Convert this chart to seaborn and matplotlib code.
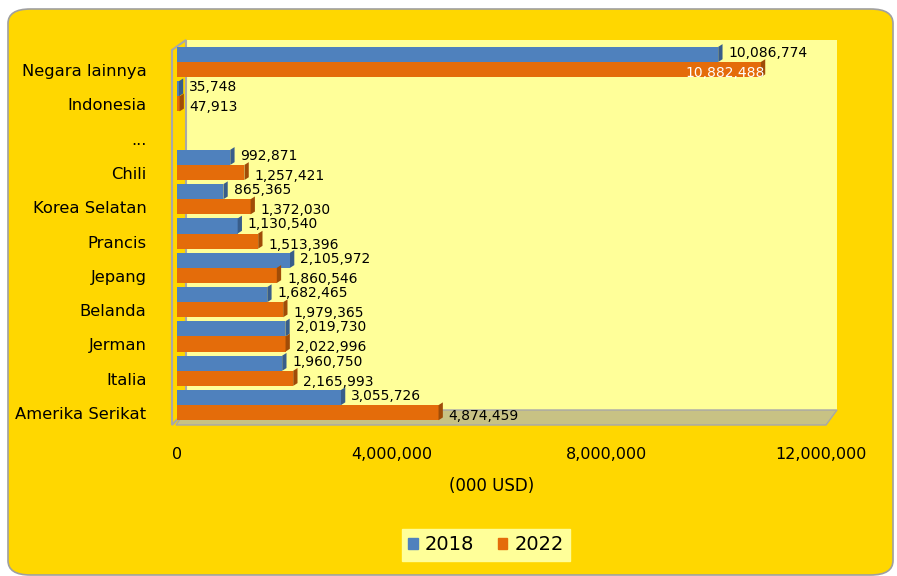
import numpy as np
import pandas as pd
import matplotlib
matplotlib.use("Agg")
import matplotlib.pyplot as plt
import matplotlib.transforms as mtransforms
from matplotlib.patches import FancyBboxPatch, Polygon
import seaborn as sns

# data (000 USD), top to bottom as in the chart
countries = ["Negara lainnya", "Indonesia", "...", "Chili", "Korea Selatan", "Prancis",
             "Jepang", "Belanda", "Jerman", "Italia", "Amerika Serikat"]
val_2018 = [10086774, 35748, None, 992871, 865365, 1130540, 2105972, 1682465, 2019730, 1960750, 3055726]
val_2022 = [10882488, 47913, None, 1257421, 1372030, 1513396, 1860546, 1979365, 2022996, 2165993, 4874459]
years = ["2018", "2022"]
xticks = [0, 4000000, 8000000, 12000000]

GOLD = "#FFD700"
WALL = "#FFFF99"
FLOOR = "#C8C284"
BLUE = "#4F81BD"
ORANGE = "#E46C0A"

rows = []
for c, a, b in zip(countries, val_2018, val_2022):
    if a is not None:
        rows.append({"negara": c, "tahun": "2018", "nilai": a})
        rows.append({"negara": c, "tahun": "2022", "nilai": b})
df = pd.DataFrame(rows)

W, H = 897, 576
fig = plt.figure(figsize=(W / 100, H / 100), dpi=100)
fig.patch.set_facecolor("white")


def px(x, y):
    return (x / W, 1 - y / H)


# gold rounded panel
panel = FancyBboxPatch(px(8, 575), (885) / W, (566) / H,
                       boxstyle="round,pad=0,rounding_size=0.025",
                       transform=fig.transFigure, facecolor=GOLD,
                       edgecolor="#A0A0A0", linewidth=1.2, zorder=-5)
fig.patches.append(panel)

left, right, top, bottom = 177, 837, 40, 425
ax = fig.add_axes([left / W, 1 - bottom / H, (right - left) / W, (bottom - top) / H])
ax.set_facecolor("none")

# 3d-ish walls and floor
back = Polygon([px(186, 40), px(837, 40), px(837, 410), px(186, 410)], closed=True,
               transform=fig.transFigure, facecolor=WALL, edgecolor="none", zorder=0.2)
lwall = Polygon([px(172, 50), px(186, 40), px(186, 410), px(172, 425)], closed=True,
                transform=fig.transFigure, facecolor=GOLD, edgecolor="#A8A8A8",
                linewidth=1.5, zorder=0.3)
floor = Polygon([px(176, 425), px(826, 425), px(837, 410), px(186, 410)], closed=True,
                transform=fig.transFigure, facecolor=FLOOR, edgecolor="#A8A8A8",
                linewidth=1, zorder=0.3)
for p in (back, lwall, floor):
    p.set_clip_on(False)
    ax.add_artist(p)

sns.barplot(data=df, y="negara", x="nilai", hue="tahun", order=countries, hue_order=years,
            palette=[BLUE, ORANGE], saturation=1, orient="h", width=0.88, ax=ax, zorder=2,
            edgecolor="none", legend=True)

ax.set_xlim(0, 12300000)
ax.set_ylim(10.58, -0.64)

# side shading and value labels
for cont, col in zip(ax.containers, years):
    dark = "#385D8A" if col == "2018" else "#A04C07"
    for bar in cont:
        w = bar.get_width()
        if np.isnan(w):
            continue
        y0 = bar.get_y()
        h = bar.get_height()
        side = Polygon([(w, y0 + h), (w, y0), (w + 80000, y0 - 0.08), (w + 80000, y0 + h - 0.08)],
                       closed=True, facecolor=dark, edgecolor="none", zorder=2.5)
        ax.add_patch(side)
        txt = f"{int(w):,}"
        yc = y0 + h / 2
        if col == "2018":
            yc -= 0.05
        else:
            yc += 0.1
        if w > 10500000:
            ax.text(w + 80000, yc, txt, ha="right", va="center", color="white",
                    fontsize=10, zorder=3)
        else:
            ax.text(w + 190000, yc, txt, ha="left", va="center", color="black",
                    fontsize=10, zorder=3)

ax.set_xticks(xticks)
ax.set_xticklabels([f"{t:,}" for t in xticks], fontsize=11.5)
ax.tick_params(axis="x", length=0, pad=16)
ax.tick_params(axis="y", length=0, pad=22, labelsize=11.8)
off = mtransforms.ScaledTranslation(0, -8 / 100, fig.dpi_scale_trans)
for lab in ax.get_yticklabels():
    lab.set_transform(lab.get_transform() + off)
ax.set_ylabel("")
ax.set_xlabel("(000 USD)", fontsize=12, labelpad=10)
ax.xaxis.set_label_coords((492 - left) / (right - left), -0.135)
for s in ax.spines.values():
    s.set_visible(False)
ax.grid(False)

ax.legend_.remove()
handles = [plt.Rectangle((0, 0), 1, 1, color=BLUE), plt.Rectangle((0, 0), 1, 1, color=ORANGE)]
leg = fig.legend(handles, years, loc="center", bbox_to_anchor=px(486, 545), ncol=2,
                 fontsize=14, frameon=True, fancybox=False, handlelength=0.5,
                 handleheight=0.5, handletextpad=0.35, columnspacing=1.2,
                 borderpad=0.35)
leg.get_frame().set_facecolor(WALL)
leg.get_frame().set_edgecolor(WALL)
leg.get_frame().set_alpha(1)

fig.savefig("out.png", dpi=100)
